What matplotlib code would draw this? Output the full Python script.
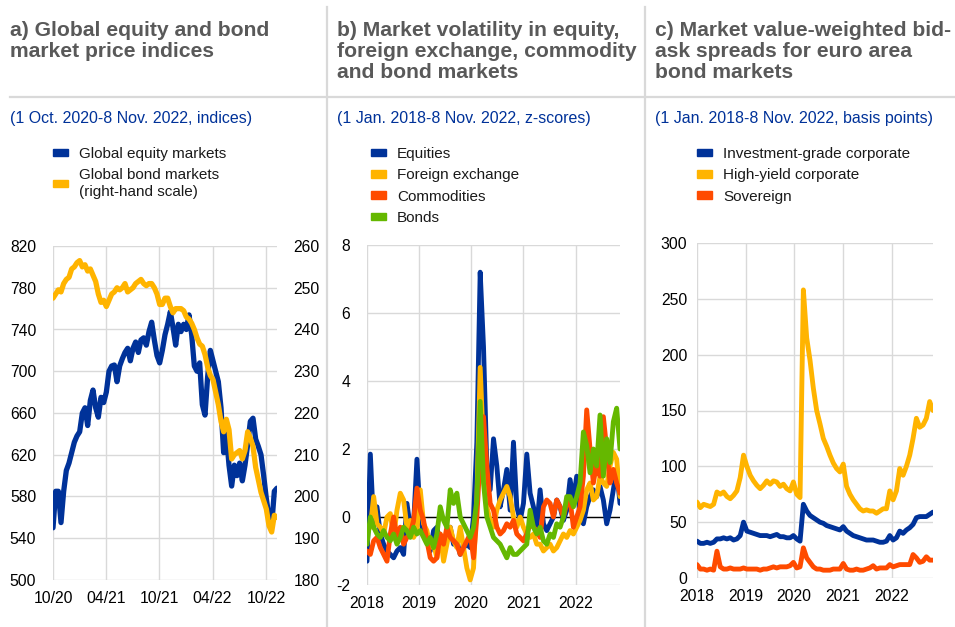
import numpy as np
import pandas as pd
import matplotlib
matplotlib.use("Agg")
from matplotlib import pyplot as plt
from matplotlib import dates as mdates
from matplotlib.patches import Patch
from matplotlib.lines import Line2D

plt.rcParams['font.family'] = ['Liberation Sans', 'DejaVu Sans']

BLUE = "#003299"
YELLOW = "#FFB400"
ORANGE = "#FF4B00"
GREEN = "#65B800"
GRID = "#d9d9d9"
TITLE_GREY = "#595959"

# ---- panel a: global equity and bond price indices (1 Oct 2020 - 8 Nov 2022)
equity = [550, 585, 585, 555, 585, 605, 612, 622, 632, 638, 642, 660, 665, 648, 672, 682,
          665, 656, 675, 670, 680, 700, 705, 706, 690, 705, 712, 718, 722, 710, 722, 728,
          718, 730, 732, 725, 738, 747, 730, 715, 708, 720, 735, 745, 757, 742, 725, 745,
          738, 745, 740, 754, 735, 705, 700, 708, 668, 658, 695, 720, 710, 700, 690, 665,
          622, 640, 610, 590, 610, 600, 612, 595, 610, 630, 652, 655, 635, 628, 620, 600,
          578, 560, 552, 585, 588]
bonds_rhs = [247.5, 248.5, 249.5, 249, 251, 252, 252.5, 254.5, 255, 256, 256.5, 255, 255.5,
             254, 254.5, 253, 251.5, 248.5, 246.5, 247, 245.5, 247, 248.5, 249, 250, 249.5,
             250, 251, 249, 249.5, 250, 251, 251.5, 252, 251, 250.5, 251, 251, 250, 248.5,
             246, 246, 247.5, 247.5, 245.5, 244, 245, 245, 245, 244.5, 243, 242.5, 241.5,
             240, 238, 236.5, 236, 234, 231, 229, 228, 225, 222, 218, 215.5, 218.5, 216,
             209, 210, 210.5, 211, 209, 211, 215.5, 214, 212, 207, 204, 201, 199, 197, 193,
             191.5, 195.5, 195]

# ---- panel b: market volatility z-scores (1 Jan 2018 - 8 Nov 2022)
vol_equities = [-1.3, 1.85, -0.3, 0.3, -0.5, -0.8, -1.0, -1.1, -1.2, -1.0, -0.9, -1.1, 0.4,
                -0.3, -0.2, 1.7, 0.0, -0.5, -0.7, -1.0, -0.4, -0.3, -0.8, -1.0, -0.6, -0.3,
                -0.8, -0.7, -1.1, -0.9, -0.8, -0.9, 0.0, 2.2, 7.2, 5.0, 1.5, 0.8, 2.3, 1.5,
                0.3, 0.8, 1.4, 0.2, 2.2, 0.3, -0.1, 0.4, 1.85, 0.7, 0.3, -0.3, 0.8, -0.2,
                -0.4, -0.2, 0.0, 0.5, 0.3, -0.1, 0.2, 1.1, 0.5, 1.2, 0.0, -0.2, 0.3, 0.6,
                0.8, 0.6, 0.9, 0.5, -0.2, 0.2, 0.8, 1.4, 0.4]
vol_fx = [-0.4, -0.3, 0.6, -0.2, -0.3, -0.5, 0.0, 0.1, -0.6, 0.2, 0.7, 0.5, -0.3, -0.1,
          -0.6, -0.4, 0.8, -0.2, -0.4, -0.9, -0.8, -1.2, -0.5, -1.3, -0.8, -0.3, -0.7, -0.9,
          -0.3, -0.9, -1.5, -1.85, -1.5, 0.5, 4.4, 2.0, 0.3, -0.1, -0.3, 0.2, 0.5, 0.7, 0.9,
          0.6, 0.0, -0.3, 0.0, -0.3, -0.5, -0.6, -0.5, -0.8, -0.8, -1.0, -0.9, -0.8, -1.0,
          -0.9, -0.7, -0.5, -0.6, -0.4, -0.5, -0.3, -0.1, 0.2, 0.8, 1.0, 0.5, 0.6, 1.2, 1.0,
          0.9, 1.5, 1.9, 1.7, 0.6]
vol_commodities = [-1.0, -1.1, -0.7, -0.6, -0.9, -1.1, -1.3, -0.5, 0.0, -0.6, -0.3, -0.8,
                   -0.6, -0.5, -0.1, 0.85, 0.2, -0.1, -0.7, -1.2, -1.3, -1.2, -0.5, -0.8,
                   -0.3, -0.6, -0.7, -0.8, -1.1, -0.9, -0.7, -0.5, -1.2, 0.0, 1.8, 2.95, 1.5,
                   0.4, 0.2, -0.3, -0.5, -0.4, -0.2, -0.3, -0.1, -0.5, -0.6, -0.7, -0.5, -0.2,
                   -0.3, -0.4, -0.6, 0.3, 0.5, 0.4, 0.0, 0.5, 0.3, 0.0, 0.4, 0.5, -0.3, 0.0,
                   0.3, 1.2, 3.15, 2.0, 1.0, 1.6, 1.2, 2.95, 2.0, 1.0, 1.4, 1.0, 0.7]
vol_bonds = [-0.8, 0.0, -0.3, -0.5, -0.6, -0.4, -0.6, -0.7, -0.5, -0.8, -0.6, -0.3, -0.4,
             -0.6, -0.3, -0.5, -0.4, -0.6, -0.8, -0.6, -0.9, -0.5, 0.3, -0.1, -0.3, 0.8,
             0.4, 0.7, 0.0, -0.2, -0.4, -0.6, -0.3, 0.5, 3.4, 1.0, 0.0, -0.3, -0.6, -0.7,
             -0.8, -1.0, -1.2, -0.9, -1.1, -1.1, -1.0, -0.9, -0.8, 0.2, -0.3, -0.5, -0.3,
             -0.7, -0.8, -0.5, -0.6, -0.2, -0.3, 0.0, 0.6, 0.6, 0.3, 0.6, 1.0, 2.5, 2.1,
             1.3, 2.0, 1.5, 3.0, 1.2, 2.3, 1.6, 2.8, 3.2, 2.0]

# ---- panel c: bid-ask spreads, basis points (1 Jan 2018 - 8 Nov 2022)
spread_ig = [33, 31, 31, 32, 31, 32, 35, 35, 36, 35, 36, 34, 35, 38, 50, 42, 41, 40, 39, 38,
             38, 38, 37, 38, 39, 37, 37, 36, 36, 38, 35, 33, 66, 60, 56, 54, 52, 50, 49, 47,
             46, 45, 44, 43, 46, 42, 40, 38, 37, 36, 35, 34, 34, 34, 33, 32, 32, 33, 38, 34,
             36, 42, 40, 43, 45, 48, 54, 55, 55, 55, 57, 59]
spread_hy = [68, 63, 66, 65, 64, 66, 77, 75, 77, 73, 71, 74, 78, 90, 110, 100, 92, 87, 83, 80,
             83, 87, 84, 87, 86, 82, 84, 80, 78, 86, 75, 72, 258, 215, 195, 170, 150, 138, 125,
             118, 110, 103, 98, 95, 102, 82, 75, 70, 66, 62, 60, 61, 60, 60, 58, 60, 62, 62,
             78, 70, 78, 98, 92, 100, 110, 125, 143, 135, 137, 143, 158, 150]
spread_sov = [12, 8, 8, 7, 8, 7, 24, 10, 8, 8, 9, 8, 8, 8, 9, 8, 8, 8, 8, 7, 8, 8, 9, 10,
              9, 10, 10, 10, 11, 14, 9, 10, 27, 18, 14, 10, 8, 8, 7, 7, 7, 8, 8, 8, 13, 8,
              7, 7, 8, 7, 7, 8, 9, 11, 8, 9, 9, 9, 12, 10, 11, 12, 12, 12, 12, 21, 18, 14,
              15, 19, 16, 16]

start_a, end_a = "2020-10-01", "2022-11-08"
start_bc, end_bc = "2018-01-01", "2022-11-08"

TICK_FS = 11.3
LEG_FS = 11


def dates(start, end, values):
    return pd.date_range(start, end, periods=len(values))


def style_axis(ax):
    for s in ax.spines.values():
        s.set_visible(False)
    ax.grid(True, color=GRID, lw=1)
    ax.set_axisbelow(True)
    ax.tick_params(length=0, labelsize=TICK_FS, colors="#000000")


def add_legend(ax, handles, x, y):
    ax.legend(handles=handles, loc="upper left", bbox_to_anchor=(x / W, 1 - y / H),
              bbox_transform=fig.transFigure, frameon=False, fontsize=LEG_FS,
              handlelength=1.0, handleheight=0.4, handletextpad=0.7, labelspacing=0.48,
              borderpad=0, borderaxespad=0, labelcolor="#1a1a1a")


fig = plt.figure(figsize=(9.55, 6.27), dpi=100)
W, H = 955, 627


def frac(l, t, r, b):
    return [l / W, 1 - b / H, (r - l) / W, (b - t) / H]


# separators
fig.add_artist(Line2D([10 / W, 1], [1 - 97 / H] * 2, color=GRID, lw=1.6))
for xs in (327, 645):
    fig.add_artist(Line2D([xs / W] * 2, [0, 1 - 7 / H], color=GRID, lw=1.6))

titles = ["a) Global equity and bond\nmarket price indices",
          "b) Market volatility in equity,\nforeign exchange, commodity\nand bond markets",
          "c) Market value-weighted bid-\nask spreads for euro area\nbond markets"]
subtitles = ["(1 Oct. 2020-8 Nov. 2022, indices)",
             "(1 Jan. 2018-8 Nov. 2022, z-scores)",
             "(1 Jan. 2018-8 Nov. 2022, basis points)"]
for x0, t, s in zip((10, 337, 655), titles, subtitles):
    fig.text(x0 / W, 1 - 21 / H, t, ha="left", va="top", fontsize=15.2, fontweight="bold",
             color=TITLE_GREY, linespacing=1.12)
    fig.text(x0 / W, 1 - 118 / H, s, ha="left", va="center", fontsize=11.5, color=BLUE)

# ---------------- panel a
ax1 = fig.add_axes(frac(53, 246, 277, 580))
style_axis(ax1)
ax1.plot(dates(start_a, end_a, equity), equity, color=BLUE, lw=3.8, solid_capstyle="round")
ax1.set_ylim(500, 820)
ax1.set_yticks(np.arange(500, 821, 40))
ax1.set_xlim(pd.Timestamp(start_a), pd.Timestamp(end_a))
ax1.set_xticks(pd.to_datetime(["2020-10-01", "2021-04-01", "2021-10-01", "2022-04-01", "2022-10-01"]))
ax1.xaxis.set_major_formatter(mdates.DateFormatter("%m/%y"))
ax1.tick_params(axis="y", pad=12)
ax1.tick_params(axis="x", pad=8)

ax1r = ax1.twinx()
for s in ax1r.spines.values():
    s.set_visible(False)
ax1r.plot(dates(start_a, end_a, bonds_rhs), bonds_rhs, color=YELLOW, lw=3.8, solid_capstyle="round")
ax1r.set_ylim(180, 260)
ax1r.set_yticks(np.arange(180, 261, 10))
ax1r.tick_params(length=0, labelsize=TICK_FS, pad=12)

add_legend(ax1, [Patch(color=BLUE, label="Global equity markets"),
                 Patch(color=YELLOW, label="Global bond markets\n(right-hand scale)")], 53, 147)

# ---------------- panel b
ax2 = fig.add_axes(frac(367, 245, 620, 585))
style_axis(ax2)
ax2.axhline(0, color="black", lw=1, zorder=1.5)
for vals, col in ((vol_equities, BLUE), (vol_fx, YELLOW), (vol_commodities, ORANGE), (vol_bonds, GREEN)):
    ax2.plot(dates(start_bc, end_bc, vals), vals, color=col, lw=3.5, solid_capstyle="round")
ax2.set_ylim(-2, 8)
ax2.set_yticks(np.arange(-2, 9, 2))
ax2.set_yticklabels([str(v) for v in range(-2, 9, 2)])
ax2.set_xlim(pd.Timestamp(start_bc), pd.Timestamp(end_bc))
ax2.xaxis.set_major_locator(mdates.YearLocator())
ax2.xaxis.set_major_formatter(mdates.DateFormatter("%Y"))
ax2.tick_params(axis="y", pad=12)
ax2.tick_params(axis="x", pad=8)
add_legend(ax2, [Patch(color=BLUE, label="Equities"),
                 Patch(color=YELLOW, label="Foreign exchange"),
                 Patch(color=ORANGE, label="Commodities"),
                 Patch(color=GREEN, label="Bonds")], 371, 147)

# ---------------- panel c
ax3 = fig.add_axes(frac(697, 243, 933, 578))
style_axis(ax3)
for vals, col in ((spread_hy, YELLOW), (spread_ig, BLUE), (spread_sov, ORANGE)):
    ax3.plot(dates(start_bc, end_bc, vals), vals, color=col, lw=3.5, solid_capstyle="round")
ax3.set_ylim(0, 300)
ax3.set_yticks(np.arange(0, 301, 50))
ax3.set_xlim(pd.Timestamp(start_bc), pd.Timestamp(end_bc))
ax3.xaxis.set_major_locator(mdates.YearLocator())
ax3.xaxis.set_major_formatter(mdates.DateFormatter("%Y"))
ax3.tick_params(axis="y", pad=7)
ax3.tick_params(axis="x", pad=8)
add_legend(ax3, [Patch(color=BLUE, label="Investment-grade corporate"),
                 Patch(color=YELLOW, label="High-yield corporate"),
                 Patch(color=ORANGE, label="Sovereign")], 697, 147)

fig.savefig("out.png", dpi=100)
